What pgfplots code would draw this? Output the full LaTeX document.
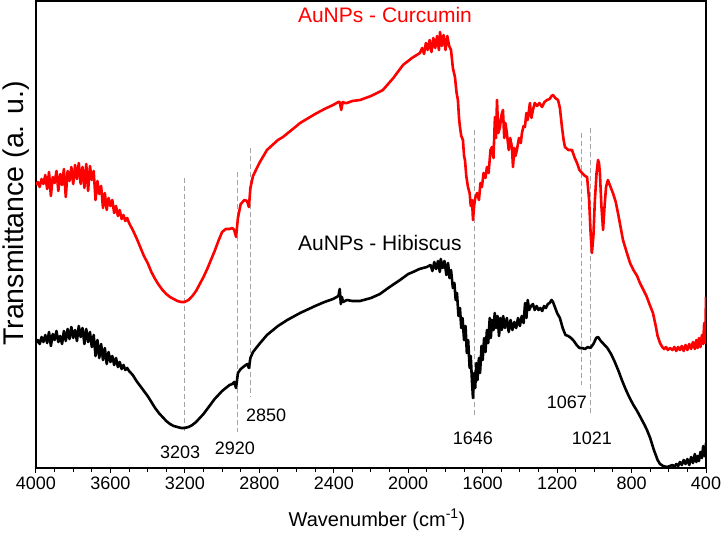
\documentclass[border=0pt]{standalone}
\usepackage{fontspec}
\setmainfont{Liberation Sans}
\usepackage{pgfplots}
\pgfplotsset{compat=1.18}
\definecolor{curred}{RGB}{255,0,0}
\definecolor{markgray}{RGB}{165,165,165}
\begin{document}
\begin{tikzpicture}
\begin{axis}[
    scale only axis,
    width=670pt, height=467pt,
    xmin=400, xmax=4000, ymin=0, ymax=467,
    x dir=reverse,
    xtick={400,800,...,4000},
    minor x tick num=3,
    ytick=\empty,
    tick align=outside,
    xtick pos=bottom,
    major tick length=5pt, minor tick length=4pt,
    every tick/.style={black, line width=1pt},
    axis line style={black, line width=1.3pt},
    tick label style={font=\fontsize{18}{20}\selectfont},
    /pgf/number format/assume math mode=true,
    /pgf/number format/1000 sep={},
    xlabel={Wavenumber (cm\textsuperscript{-1})},
    ylabel={Transmittance (a. u.)},
    xlabel style={font=\fontsize{20}{24}\selectfont, at={(axis description cs:0.509,0)}, anchor=center, yshift=-52pt},
    ylabel style={font=\fontsize{28.5}{32}\selectfont, at={(axis description cs:-0.030,0.545)}, anchor=center},
]
% dashed peak markers
\addplot[markgray, line width=0.9pt, dash pattern=on 5pt off 3pt] coordinates {(3203,290) (3203,34)};
\addplot[markgray, line width=0.9pt, dash pattern=on 5pt off 3pt] coordinates {(2920,296) (2920,36)};
\addplot[markgray, line width=0.9pt, dash pattern=on 5pt off 3pt] coordinates {(2850,320) (2850,71)};
\addplot[markgray, line width=0.9pt, dash pattern=on 5pt off 3pt] coordinates {(1646,338) (1646,53)};
\addplot[markgray, line width=0.9pt, dash pattern=on 5pt off 3pt] coordinates {(1067,335) (1067,83)};
\addplot[markgray, line width=0.9pt, dash pattern=on 5pt off 3pt] coordinates {(1021,340) (1021,53)};

% AuNPs - Curcumin
\addplot[curred, line width=2.6pt, line join=round] coordinates {
(4000,283) (3990,286) (3980,281) (3970,289) (3960,284) (3950,293) (3940,279) (3930,296) (3920,272) (3910,291)
(3900,285) (3890,297) (3880,277) (3870,294) (3860,283) (3850,299) (3840,271) (3830,297) (3820,287) (3810,301)
(3800,284) (3790,303) (3780,289) (3770,305) (3760,284) (3750,301) (3740,280) (3730,304) (3720,277) (3710,302)
(3700,288) (3690,297) (3680,268) (3670,287) (3660,274) (3650,282) (3640,260) (3630,275) (3620,258) (3610,270)
(3600,262) (3590,268) (3580,255) (3570,262) (3560,252) (3550,258) (3540,249) (3530,253) (3520,247) (3510,250)
(3500,245) (3480,238) (3460,230) (3440,221) (3420,212) (3400,205) (3380,196) (3360,189) (3340,183) (3320,178)
(3300,174) (3280,171) (3260,169) (3240,167) (3220,166) (3203,166) (3180,168) (3160,172) (3140,177) (3120,184)
(3100,191) (3080,199) (3060,208) (3040,217) (3020,227) (3000,236) (2980,239) (2960,239) (2945,240) (2935,238)
(2925,231) (2915,250) (2900,264) (2880,268) (2866,267) (2856,261) (2848,280) (2834,292) (2800,305) (2759,318)
(2700,328) (2673,331) (2600,342) (2581,345) (2500,354) (2450,359) (2404,363) (2375,366) (2368,366) (2360,358)
(2352,366) (2340,365) (2330,365) (2300,367) (2259,368) (2200,372) (2136,378) (2080,390) (2028,403) (1980,410)
(1937,415) (1925,420) (1915,414) (1905,425) (1895,418) (1885,428) (1875,416) (1865,430) (1855,420) (1845,432)
(1835,418) (1829,436) (1820,422) (1810,433) (1800,418) (1790,432) (1780,422) (1770,418) (1760,400) (1749,391)
(1740,375) (1733,368) (1727,350) (1722,341) (1715,332) (1706,328) (1700,312) (1695,308) (1688,292) (1679,281)
(1670,275) (1664,262) (1657,268) (1652,248) (1646,262) (1640,270) (1630,275) (1620,268) (1612,285) (1604,281)
(1595,295) (1585,290) (1577,301) (1568,295) (1558,318) (1550,321) (1542,310) (1534,351) (1528,330) (1523,368)
(1516,335) (1507,341) (1500,352) (1491,358) (1484,330) (1478,345) (1470,335) (1460,318) (1452,330) (1443,321)
(1437,301) (1430,320) (1424,312) (1416,318) (1405,330) (1395,325) (1389,335) (1380,342) (1373,341) (1365,355)
(1358,348) (1346,365) (1338,350) (1330,358) (1320,365) (1308,362) (1295,365) (1281,361) (1268,366) (1254,368)
(1240,369) (1230,372) (1222,373) (1210,370) (1195,368) (1185,360) (1174,341) (1165,328) (1158,321) (1140,318)
(1120,318) (1105,310) (1093,305) (1080,298) (1066,295) (1050,292) (1039,291) (1028,268) (1020,235) (1013,215)
(1005,232) (997,268) (988,295) (980,308) (975,305) (970,295) (962,262) (953,238) (945,262) (937,281)
(927,288) (915,282) (900,275) (885,266) (873,255) (860,242) (846,228) (825,215) (808,205) (790,198)
(770,192) (755,185) (720,172) (700,162) (685,155) (670,142) (660,132) (647,125) (635,121) (625,119)
(615,121) (605,118) (594,120) (580,118) (570,121) (560,117) (550,121) (540,118) (530,122) (520,117)
(510,123) (500,118) (490,124) (480,119) (470,126) (460,119) (452,128) (445,120) (438,130) (430,121)
(422,133) (415,124) (410,145) (405,125) (402,150) (400,171)
};

% AuNPs - Hibiscus
\addplot[black, line width=2.6pt, line join=round] coordinates {
(4000,125) (3990,128) (3980,124) (3970,131) (3960,126) (3950,133) (3940,125) (3930,136) (3920,122) (3910,134)
(3900,128) (3890,137) (3880,126) (3870,132) (3860,124) (3850,137) (3840,127) (3830,139) (3820,129) (3810,141)
(3800,130) (3790,138) (3780,127) (3770,142) (3760,131) (3750,140) (3740,124) (3730,139) (3720,126) (3710,136)
(3700,121) (3690,133) (3680,112) (3670,128) (3660,110) (3650,124) (3640,108) (3630,120) (3620,104) (3610,116)
(3600,106) (3590,112) (3580,103) (3570,110) (3560,101) (3550,106) (3540,99) (3530,103) (3520,98) (3510,100)
(3500,97) (3480,93) (3460,87) (3440,82) (3420,77) (3400,72) (3380,66) (3360,60) (3340,55) (3320,51)
(3300,47) (3280,44) (3260,42) (3240,41) (3220,40) (3203,40) (3180,41) (3160,43) (3140,46) (3120,50)
(3100,54) (3080,59) (3060,64) (3040,69) (3020,73) (3000,77) (2980,80) (2960,83) (2945,84) (2935,86)
(2925,80) (2915,95) (2900,99) (2880,102) (2865,104) (2856,100) (2848,110) (2834,116) (2800,124) (2759,133)
(2700,142) (2650,148) (2581,155) (2500,162) (2450,166) (2404,169) (2375,172) (2368,179) (2362,164) (2356,171)
(2350,166) (2330,168) (2300,167) (2259,167) (2200,170) (2152,174) (2100,181) (2044,188) (2000,194) (1974,196)
(1940,199) (1900,201) (1880,203) (1870,197) (1860,206) (1850,199) (1840,207) (1830,196) (1825,209) (1815,200)
(1805,207) (1795,193) (1786,205) (1778,190) (1770,198) (1760,180) (1752,185) (1745,168) (1738,175) (1730,152)
(1722,160) (1715,140) (1708,150) (1700,128) (1692,142) (1685,115) (1678,128) (1670,100) (1664,112) (1657,85)
(1652,70) (1646,95) (1640,80) (1634,105) (1628,88) (1620,110) (1614,95) (1606,122) (1600,108) (1592,130)
(1585,116) (1577,138) (1570,125) (1562,150) (1556,130) (1550,148) (1542,138) (1535,155) (1528,140) (1520,152)
(1512,132) (1505,150) (1497,138) (1490,152) (1480,140) (1470,150) (1460,136) (1450,148) (1440,138) (1430,146)
(1420,140) (1410,150) (1400,142) (1390,152) (1380,145) (1372,165) (1365,150) (1358,168) (1350,158) (1340,162)
(1330,164) (1320,158) (1310,162) (1300,158) (1290,160) (1280,157) (1270,162) (1260,160) (1250,164) (1240,165)
(1230,168) (1222,166) (1210,160) (1200,155) (1185,150) (1170,140) (1155,133) (1140,132) (1125,130) (1110,127)
(1095,123) (1080,120) (1067,120) (1050,119) (1035,121) (1021,120) (1005,124) (990,130) (980,131) (965,127)
(950,124) (930,120) (910,114) (890,106) (870,97) (850,87) (830,78) (810,70) (790,63) (770,57)
(750,50) (730,43) (717,38) (700,30) (680,18) (660,8) (647,4) (630,2) (610,1) (594,2)
(580,3) (570,1) (560,4) (550,2) (540,6) (530,3) (520,8) (510,4) (500,9) (490,3)
(480,11) (470,5) (460,14) (452,6) (445,12) (438,7) (430,16) (422,10) (415,22) (408,12)
(402,20) (400,25)
};

% annotations
\node[curred, font=\fontsize{21}{24}\selectfont] at (axis cs:2125,453) {AuNPs - Curcumin};
\node[black, font=\fontsize{21}{24}\selectfont] at (axis cs:2152,225) {AuNPs - Hibiscus};
\node[font=\fontsize{18}{20}\selectfont] at (axis cs:3225,16) {3203};
\node[font=\fontsize{18}{20}\selectfont] at (axis cs:2931,20) {2920};
\node[font=\fontsize{18}{20}\selectfont] at (axis cs:2764,53) {2850};
\node[font=\fontsize{18}{20}\selectfont] at (axis cs:1652,30) {1646};
\node[font=\fontsize{18}{20}\selectfont] at (axis cs:1147,66) {1067};
\node[font=\fontsize{18}{20}\selectfont] at (axis cs:1013,30) {1021};
\end{axis}
\pgfresetboundingbox
\path ([shift={(-36pt,-65pt)}]current axis.south west) rectangle ([shift={(15pt,1pt)}]current axis.north east);
\end{tikzpicture}
\end{document}
